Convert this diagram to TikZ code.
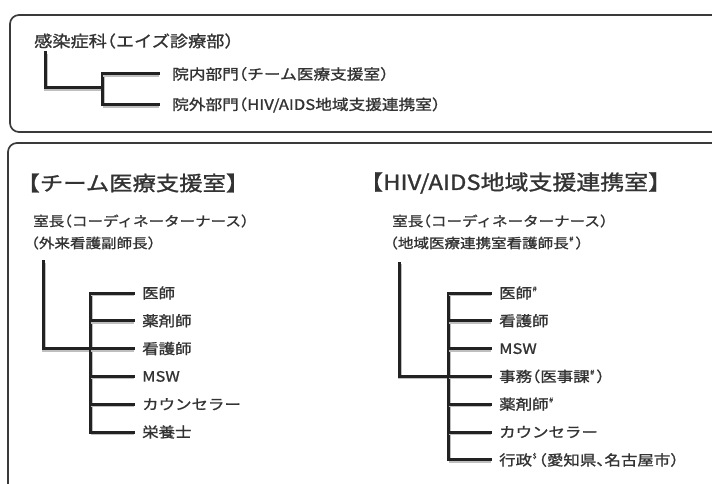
\documentclass[tikz,border=0pt]{standalone}
\usepackage{fontspec}
\setmainfont{Noto Sans CJK JP}[FakeStretch=1.15,RawFeature=+halt,FakeBold=1.2]
\definecolor{txt}{HTML}{333333}
\definecolor{ln}{HTML}{222222}
\definecolor{bx}{HTML}{3A3A3A}
\newcommand\supmark[1]{\kern0.5bp\raisebox{0.5em}{\fontsize{6.5bp}{6.5bp}\selectfont #1}\kern2bp}
\tikzset{
  lbl/.style={anchor=west, inner sep=0pt, text=txt, font=\fontsize{#1}{#1}\selectfont},
  tree/.style={draw=ln, line width=3bp, line join=miter, line cap=rect,
    preaction={draw=black!25, line width=3.9bp, transform canvas={shift={(1bp,-1bp)}}}},
  boxline/.style={draw=bx, line width=1.7bp, rounded corners=9bp}
}
\begin{document}
\begin{tikzpicture}[x=1bp,y=-1bp]
\useasboundingbox (0,0) rectangle (712,484);
\clip (0,0) rectangle (712,484);
\fill[white] (0,0) rectangle (712,484);
% boxes
\draw[boxline] (10,15) rectangle (740,132);
\draw[boxline] (8,143) rectangle (740,520);

% ---------- top box ----------
\node[lbl=15.8bp] (dept) at (34,41) {感染症科（エイズ診療部）};
\node[lbl=14.5bp] (inner) at (172,74) {院内部門（チーム医療支援室）};
\node[lbl=14.5bp] (outer) at (172,105) {院外部門（HIV/AIDS地域支援連携室）};
\coordinate (t0) at (45,53);
\coordinate (tb) at (102,88);
\draw[tree] (t0) |- (tb);
\draw[tree] (tb |- inner.west) -- (tb |- outer.west);
\draw[tree] (tb |- inner.west) -- ([xshift=-14bp]inner.west);
\draw[tree] (tb |- outer.west) -- ([xshift=-14bp]outer.west);

% ---------- left: team ----------
\node[lbl=20.3bp] (h1) at (28,183) {【チーム医療支援室】};
\node[lbl=13.5bp] (c1a) at (33,221) {室長（コーディネーターナース）};
\node[lbl=13.5bp] (c1b) at (31,243) {（外来看護副師長）};
\foreach \t [count=\i] in {医師,薬剤師,看護師,MSW,カウンセラー,栄養士}{
  \node[lbl=14.3bp] (a\i) at (142,{293+27.8*(\i-1)}) {\t};
}
\coordinate (L0) at (43,262);
\coordinate (Lb) at (90,348.6);
\draw[tree] (L0) |- (Lb);
\draw[tree] (Lb |- a1.west) -- (Lb |- a6.west);
\foreach \i in {1,...,6}{
  \draw[tree] (Lb |- a\i.west) -- ([xshift=-9bp]a\i.west);
}

% ---------- right: HIV/AIDS ----------
\node[lbl=20.8bp] (h2) at (371,183) {【HIV/AIDS地域支援連携室】};
\node[lbl=13.5bp] (c2a) at (392,221) {室長（コーディネーターナース）};
\node[lbl=13.5bp] (c2b) at (390,243) {（地域医療連携室看護師長\supmark{\#}）};
\foreach \t [count=\i] in {医師\supmark{\#},看護師,MSW,事務（医事課\supmark{\#}）,薬剤師\supmark{\#},カウンセラー,行政\supmark{\$}（愛知県、名古屋市）}{
  \node[lbl=14.3bp] (b\i) at (499,{293+27.8*(\i-1)}) {\t};
}
\coordinate (R0) at (399,263);
\coordinate (Rb) at (448,376.4);
\draw[tree] (R0) |- (Rb);
\draw[tree] (Rb |- b1.west) -- (Rb |- b7.west);
\foreach \i in {1,...,7}{
  \draw[tree] (Rb |- b\i.west) -- ([xshift=-9bp]b\i.west);
}
\end{tikzpicture}
\end{document}
